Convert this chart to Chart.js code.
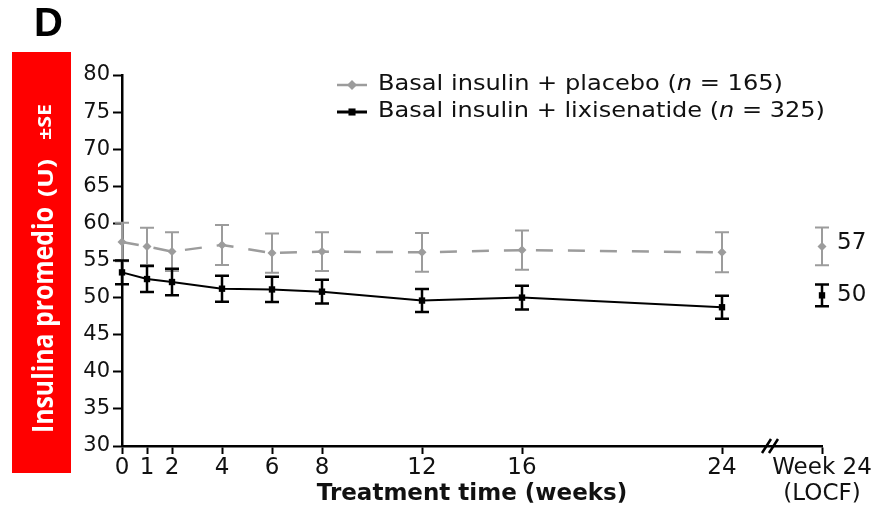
<!DOCTYPE html>
<html>
<head>
<meta charset="utf-8">
<script src="https://cdn.jsdelivr.net/npm/chart.js@4.4.0/dist/chart.umd.min.js"></script>
<style>
  body { margin: 0; background: #fff; }
  #wrap { width: 892px; height: 511px; position: relative; }
</style>
</head>
<body>
<div id="wrap"><canvas id="mainChart"></canvas></div>
<script>
// weeks on the x axis, LOCF column sits at x = 28 after the axis break
const weeks = [0, 1, 2, 4, 6, 8, 12, 16, 24];
const locfX = 28;

const placeboMean = [57.5, 56.9, 56.2, 57.1, 56.0, 56.2, 56.1, 56.4, 56.1];
const placeboSE   = [2.6, 2.5, 2.6, 2.7, 2.65, 2.6, 2.6, 2.65, 2.7];
const placeboLocf = [56.9];
const placeboLocfSE = [2.55];

const lixiMean = [53.4, 52.5, 52.1, 51.2, 51.1, 50.8, 49.6, 50.0, 48.7];
const lixiSE   = [1.6, 1.75, 1.8, 1.75, 1.7, 1.6, 1.55, 1.6, 1.55];
const lixiLocf = [50.3];
const lixiLocfSE = [1.45];

const xTickValues = [0, 1, 2, 4, 6, 8, 12, 16, 24, 28];
const xTickLabels = ['0', '1', '2', '4', '6', '8', '12', '16', '24', ['Week 24', '(LOCF)']];
const endLabels = ['57', '50'];

const legendNames = ['Basal insulin + placebo (', 'Basal insulin + lixisenatide ('];
const legendN = ['165', '325'];

const GRAY = '#9c9c9c';
const BLACK = '#000000';
const FONT = "'DejaVu Sans', sans-serif";

const pts = (xs, ys) => xs.map((x, i) => ({ x: x, y: ys[i] }));

// draw text squeezed/stretched along its direction to a given width
function fitText(ctx, parts, x, y, width) {
  let total = 0;
  parts.forEach(p => { ctx.font = p.font; total += ctx.measureText(p.text).width; });
  const sx = width / total;
  ctx.save();
  ctx.translate(x, y);
  ctx.scale(sx, 1);
  let cx = 0;
  parts.forEach(p => {
    ctx.font = p.font;
    ctx.fillText(p.text, cx, 0);
    cx += ctx.measureText(p.text).width;
  });
  ctx.restore();
}

// error bars drawn through the y scale
const errorBars = {
  id: 'errorBars',
  beforeDatasetsDraw(chart) {
    const ctx = chart.ctx;
    const xs = chart.scales.x, ys = chart.scales.y;
    const sets = [
      [weeks, placeboMean, placeboSE, GRAY, 2],
      [[locfX], placeboLocf, placeboLocfSE, GRAY, 2],
      [weeks, lixiMean, lixiSE, BLACK, 2.5],
      [[locfX], lixiLocf, lixiLocfSE, BLACK, 2.5]
    ];
    ctx.save();
    sets.forEach(([wx, m, se, col, lw]) => {
      ctx.strokeStyle = col;
      ctx.lineWidth = lw;
      wx.forEach((w, i) => {
        const x = xs.getPixelForValue(w);
        const top = ys.getPixelForValue(m[i] + se[i]);
        const bot = ys.getPixelForValue(m[i] - se[i]);
        ctx.beginPath();
        ctx.moveTo(x, top); ctx.lineTo(x, bot);
        ctx.moveTo(x - 7, top); ctx.lineTo(x + 7, top);
        ctx.moveTo(x - 7, bot); ctx.lineTo(x + 7, bot);
        ctx.stroke();
      });
    });
    ctx.restore();
  }
};

const decorations = {
  id: 'decorations',
  afterDraw(chart) {
    const ctx = chart.ctx;
    const xs = chart.scales.x, ys = chart.scales.y;
    ctx.save();

    // panel letter
    ctx.fillStyle = '#000';
    ctx.font = "bold 40px 'Liberation Sans', Arial, sans-serif";
    ctx.textAlign = 'left';
    ctx.textBaseline = 'alphabetic';
    ctx.fillText('D', 34, 36);

    // red y-axis title box
    ctx.fillStyle = '#ff0000';
    ctx.fillRect(12, 52, 59, 421);
    ctx.save();
    ctx.translate(53, 0);
    ctx.rotate(-Math.PI / 2);
    ctx.fillStyle = '#fff';
    ctx.textBaseline = 'alphabetic';
    ctx.textAlign = 'left';
    // rotated: x along text = -pageY
    fitText(ctx, [{ text: 'Insulina promedio', font: "bold 28px 'Open Sans', sans-serif" }], -433, 0, 226);
    fitText(ctx, [{ text: '(U)', font: "bold 21px 'Open Sans', sans-serif" }], -197, 0, 38);
    fitText(ctx, [{ text: '±SE', font: "bold 17px 'Open Sans', sans-serif" }], -140, -2, 36);
    ctx.restore();

    // axis break marks
    const bx = xs.getPixelForValue(26), by = ys.bottom;
    ctx.strokeStyle = '#000';
    ctx.lineWidth = 2.5;
    ctx.beginPath();
    ctx.moveTo(bx - 10, by + 7); ctx.lineTo(bx - 1, by - 7);
    ctx.moveTo(bx - 3, by + 7); ctx.lineTo(bx + 6, by - 7);
    ctx.stroke();

    // end value labels
    ctx.fillStyle = '#111';
    ctx.font = "23px " + FONT;
    ctx.textBaseline = 'middle';
    ctx.textAlign = 'left';
    ctx.fillText(endLabels[0], xs.right + 15, ys.getPixelForValue(placeboLocf[0]) - 3);
    ctx.fillText(endLabels[1], xs.right + 15, ys.getPixelForValue(lixiLocf[0]));

    // legend
    const rows = [
      [GRAY, 'rectRot', 5, 2.5, 85, 405],
      [BLACK, 'rect', 5, 3, 112, 447]
    ];
    rows.forEach(([col, style, r, lw, y, w], i) => {
      ctx.strokeStyle = col;
      ctx.lineWidth = lw;
      ctx.beginPath();
      ctx.moveTo(337, y); ctx.lineTo(367, y);
      ctx.stroke();
      ctx.fillStyle = col;
      Chart.helpers.drawPoint(ctx, { pointStyle: style, radius: r, borderWidth: 0 }, 352, y);
      ctx.fillStyle = '#111';
      ctx.textBaseline = 'middle';
      fitText(ctx, [
        { text: legendNames[i], font: '21px ' + FONT },
        { text: 'n', font: 'italic 21px ' + FONT },
        { text: ' = ' + legendN[i] + ')', font: '21px ' + FONT }
      ], 378, y, w);
    });
    ctx.restore();
  }
};

new Chart('mainChart', {
  type: 'line',
  data: {
    datasets: [
      {
        data: pts(weeks, placeboMean),
        borderColor: GRAY, backgroundColor: GRAY,
        borderWidth: 2.5, borderDash: [17, 15],
        pointStyle: 'rectRot', pointRadius: 4.5, pointBorderWidth: 0,
        clip: false
      },
      {
        data: pts([locfX], placeboLocf),
        showLine: false, borderColor: GRAY, backgroundColor: GRAY,
        pointStyle: 'rectRot', pointRadius: 4.5, pointBorderWidth: 0,
        clip: false
      },
      {
        data: pts(weeks, lixiMean),
        borderColor: BLACK, backgroundColor: BLACK,
        borderWidth: 2,
        pointStyle: 'rect', pointRadius: 4.5, pointBorderWidth: 0,
        clip: false
      },
      {
        data: pts([locfX], lixiLocf),
        showLine: false, borderColor: BLACK, backgroundColor: BLACK,
        pointStyle: 'rect', pointRadius: 4.5, pointBorderWidth: 0,
        clip: false
      }
    ]
  },
  options: {
    responsive: true,
    maintainAspectRatio: false,
    animation: false,
    layout: { padding: { left: 0, right: 70, top: 75, bottom: 0 } },
    plugins: {
      legend: { display: false },
      tooltip: { enabled: false }
    },
    scales: {
      x: {
        type: 'linear',
        min: 0, max: 28,
        afterFit(scale) { scale.height = 65; },
        afterBuildTicks(scale) { scale.ticks = xTickValues.map(v => ({ value: v })); },
        border: { display: true, color: '#000', width: 2.5 },
        grid: { drawOnChartArea: false, drawTicks: true, tickLength: 8, tickColor: '#000', tickWidth: 2 },
        ticks: {
          autoSkip: false, maxRotation: 0, padding: 1,
          color: '#111', font: { family: FONT, size: 23, lineHeight: 1.12 },
          callback: (v) => xTickLabels[xTickValues.indexOf(v)]
        },
        title: {
          display: true, text: 'Treatment time (weeks)',
          color: '#111', font: { family: FONT, size: 23, weight: 'bold' },
          padding: { top: 0, bottom: 3 }
        }
      },
      y: {
        min: 30, max: 80,
        afterFit(scale) { scale.width = 122; },
        border: { display: true, color: '#000', width: 2.5 },
        grid: { drawOnChartArea: false, drawTicks: true, tickLength: 9, tickColor: '#000', tickWidth: 2 },
        ticks: {
          stepSize: 5, padding: 3,
          color: '#111', font: { family: FONT, size: 21 }
        }
      }
    }
  },
  plugins: [errorBars, decorations]
});
</script>
</body>
</html>
